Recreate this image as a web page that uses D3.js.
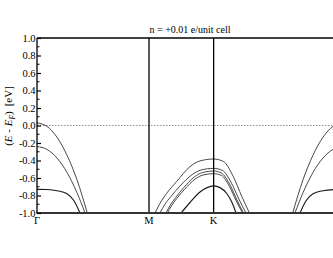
<!DOCTYPE html>
<html><head><meta charset="utf-8">
<script src="https://cdn.jsdelivr.net/npm/d3@7"></script>
<style>html,body{margin:0;padding:0;background:#fff;overflow:hidden}</style>
</head><body><svg id="c" width="333" height="258"></svg>
<script>
// k-path: Γ(0) – M(1) – K(1+1/√3) – Γ(1+√3); the last Γ lies beyond the visible window
const kPoints = [0, 1, 1.577];
const kLabels = ["Γ", "M", "K"];
const kEnd = 2.732;
const yTicks = [1.0, 0.8, 0.6, 0.4, 0.2, 0.0, -0.2, -0.4, -0.6, -0.8, -1.0];
const yTickLabels = ["1.0","0.8","0.6","0.4","0.2","0.0","-0.2","-0.4","-0.6","-0.8","-1.0"];
const title = "n = +0.01 e/unit cell";

// bands near left Γ
const bandGL1 = [[0,0.03],[0.089,-0.01],[0.179,-0.135],[0.268,-0.34],[0.357,-0.62],[0.449,-1.0]];
const bandGL2 = [[0,-0.24],[0.089,-0.273],[0.179,-0.372],[0.268,-0.537],[0.357,-0.768],[0.429,-1.0]];
const bandGL3 = [[0,-0.73],[0.089,-0.732],[0.179,-0.745],[0.268,-0.78],[0.330,-0.86],[0.384,-1.0]];
// bands near right Γ
const bandGR1 = [[2.283,-1.0],[2.375,-0.62],[2.464,-0.34],[2.553,-0.135],[2.643,-0.01],[2.732,0.03]];
const bandGR2 = [[2.303,-1.0],[2.375,-0.768],[2.464,-0.537],[2.553,-0.372],[2.643,-0.273],[2.732,-0.24]];
const bandGR3 = [[2.348,-1.0],[2.402,-0.86],[2.464,-0.78],[2.553,-0.745],[2.643,-0.732],[2.732,-0.73]];
// bands around K
const bandK1 = [[1.054,-1.0],[1.098,-0.89],[1.158,-0.775],[1.247,-0.64],[1.366,-0.47],[1.455,-0.405],[1.576,-0.383],[1.663,-0.41],[1.753,-0.585],[1.828,-0.81],[1.897,-1.0]];
const bandK2 = [[1.098,-1.0],[1.138,-0.908],[1.194,-0.814],[1.275,-0.694],[1.385,-0.561],[1.466,-0.508],[1.576,-0.49],[1.654,-0.512],[1.736,-0.658],[1.803,-0.842],[1.866,-1.0]];
const bandK3 = [[1.152,-1.0],[1.188,-0.914],[1.237,-0.825],[1.309,-0.712],[1.406,-0.587],[1.479,-0.537],[1.576,-0.52],[1.644,-0.541],[1.723,-0.678],[1.785,-0.851],[1.844,-1.0]];
const bandK4 = [[1.165,-1.0],[1.2,-0.919],[1.247,-0.836],[1.317,-0.73],[1.412,-0.613],[1.482,-0.566],[1.576,-0.55],[1.646,-0.57],[1.719,-0.699],[1.778,-0.86],[1.835,-1.0]];
const bandK5 = [[1.286,-1.0],[1.366,-0.88],[1.455,-0.76],[1.518,-0.71],[1.576,-0.69],[1.634,-0.71],[1.696,-0.78],[1.741,-0.88],[1.777,-1.0]];

const thinBands = [bandGL1, bandGL2, bandGR1, bandGR2, bandK1, bandK2, bandK3, bandK4];
const thickBands = [bandGL3, bandGR3, bandK5];

const svg = d3.select("#c");
const L = 37, T = 38, B = 213, R = 343;
const x = d3.scaleLinear().domain([0, kEnd]).range([L, R]);
const y = d3.scaleLinear().domain([-1, 1]).range([B, T]);
const serif = "Liberation Serif";

svg.append("defs").append("clipPath").attr("id","clip")
  .append("rect").attr("x", L).attr("y", T).attr("width", R - L).attr("height", B - T);

// Fermi level dotted
svg.append("line").attr("x1", L).attr("x2", R).attr("y1", y(0)).attr("y2", y(0))
  .attr("stroke", "#777").attr("stroke-width", 0.8).attr("stroke-dasharray", "1.5,1.5");

// bands
const line = d3.line().x(d => x(d[0])).y(d => y(d[1])).curve(d3.curveMonotoneX);
const g = svg.append("g").attr("clip-path", "url(#clip)");
g.selectAll("path.thin").data(thinBands).join("path").attr("class","thin")
  .attr("d", line).attr("fill","none").attr("stroke","#333").attr("stroke-width",0.9);
g.selectAll("path.thick").data(thickBands).join("path").attr("class","thick")
  .attr("d", line).attr("fill","none").attr("stroke","#1a1a1a").attr("stroke-width",1.15);

// high symmetry vertical lines
svg.selectAll("line.sym").data(kPoints.slice(1)).join("line").attr("class","sym")
  .attr("x1", d => x(d)).attr("x2", d => x(d)).attr("y1", T).attr("y2", B)
  .attr("stroke", "#000").attr("stroke-width", 1.3);

// frame
svg.append("line").attr("x1", L).attr("x2", R).attr("y1", T).attr("y2", T)
  .attr("stroke","#000").attr("stroke-width",1.3);
svg.append("line").attr("x1", L - 0.5).attr("x2", R).attr("y1", B).attr("y2", B)
  .attr("stroke","#333").attr("stroke-width",2);

// y axis (ticks inward)
const yAxis = d3.axisRight(y).tickValues(yTicks).tickSize(4).tickFormat(() => "");
const ya = svg.append("g").attr("transform", `translate(${L},0)`).call(yAxis);
ya.select(".domain").attr("stroke","#000").attr("stroke-width",1.3).attr("d", `M0,${T}V${B}`);
ya.selectAll(".tick line").attr("stroke","#000").attr("stroke-width",1.2);
const minor = d3.range(-0.9, 1.0, 0.2);
ya.selectAll("line.minor").data(minor).join("line").attr("class","minor")
  .attr("x1",0).attr("x2",2.5).attr("y1", d => y(d)).attr("y2", d => y(d))
  .attr("stroke","#000").attr("stroke-width",1);

svg.selectAll("text.yl").data(yTicks).join("text").attr("class","yl")
  .attr("x", L - 1.5).attr("y", d => y(d) + 3.6)
  .attr("text-anchor","end").attr("font-family", serif).attr("font-size", 10.5)
  .attr("fill","#000").text((d,i) => yTickLabels[i]);

// x labels
svg.selectAll("text.xl").data(kPoints).join("text").attr("class","xl")
  .attr("x", d => x(d)).attr("y", 224)
  .attr("text-anchor","middle").attr("font-family", serif).attr("font-size", 10.5)
  .attr("fill","#000").text((d,i) => kLabels[i]);

// title
svg.append("text").attr("x", 190).attr("y", 32.5).attr("text-anchor","middle")
  .attr("font-family", serif).attr("font-size", 10).attr("fill","#000").text(title);

// y-axis label
const yl = svg.append("text").attr("transform","translate(12,116) rotate(-90)")
  .attr("text-anchor","middle").attr("font-family", serif).attr("font-size", 11).attr("fill","#000");
yl.append("tspan").text("(");
yl.append("tspan").attr("font-style","italic").text("E");
yl.append("tspan").text(" - ");
yl.append("tspan").attr("font-style","italic").text("E");
yl.append("tspan").attr("font-style","italic").attr("font-size",7.5).attr("dy",2.5).text("F");
yl.append("tspan").attr("dy",-2.5).text(")");
yl.append("tspan").attr("dx",5).text("[eV]");
</script></body></html>
